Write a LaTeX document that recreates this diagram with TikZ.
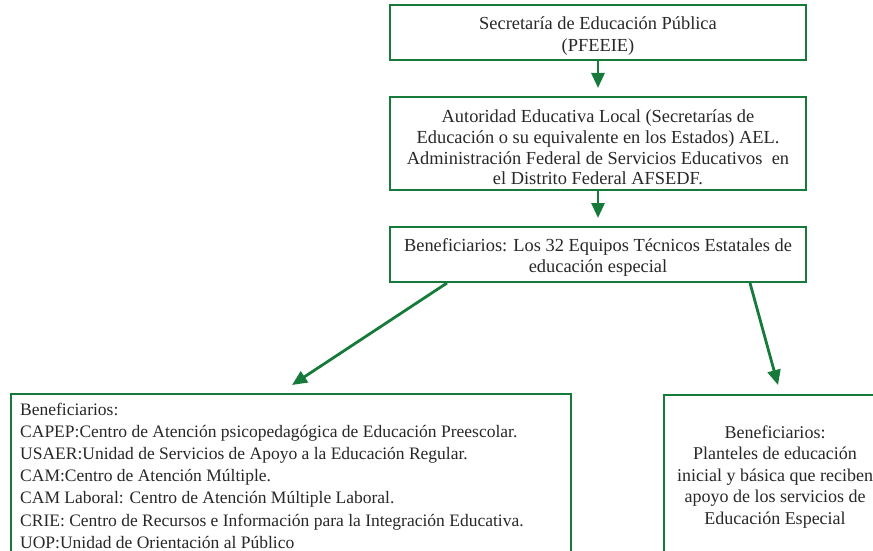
\documentclass[tikz,border=0pt]{standalone}
\usepackage{fontspec}
\setmainfont{Liberation Serif}
\usetikzlibrary{arrows.meta,calc}
\definecolor{boxgreen}{RGB}{22,122,58}
\definecolor{txt}{RGB}{40,40,40}
\tikzset{
  box/.style={draw=boxgreen, line width=2pt, fill=white, text=txt, align=center, inner sep=0pt, font=\fontsize{18.4}{21}\selectfont},
  conn/.style={draw=boxgreen, line width=2.8pt, -{Triangle[length=15pt,width=13pt]}},
  txtlabel/.style={text=txt, inner sep=0pt},
}
\begin{document}
\begin{tikzpicture}[x=1pt,y=-1pt]
\useasboundingbox (0,0) rectangle (873,551);
\node[box, minimum width=416, minimum height=55] (B1) at (598,32.5) {};
\node[txtlabel, align=center, font=\fontsize{18.4}{21.8}\selectfont] (B1t) at (598,36) {Secretaría de Educación Pública\\(PFEEIE)};
\node[box, minimum width=416, minimum height=93] (B2) at (598,143.5) {};
\node[txtlabel, align=center, font=\fontsize{18.4}{20.7}\selectfont] (B2t) at (598,147.5) {Autoridad Educativa Local (Secretarías de\\Educación o su equivalente en los Estados) AEL.\\Administración Federal de Servicios Educativos\ \ en\\el Distrito Federal AFSEDF.};
\node[box, minimum width=416, minimum height=55] (B3) at (598,254.5) {};
\node[txtlabel, align=center, font=\fontsize{18.4}{21}\selectfont] (B3t) at (598,257.5) {Beneficiarios: Los 32 Equipos Técnicos Estatales de\\educación especial};
\node[box, anchor=north west, minimum width=560, minimum height=180] (L) at (10,393) {};
\node[txtlabel, anchor=north west, align=left, font=\fontsize{17.5}{22.1}\selectfont] (Ltxt) at (20,403) {Beneficiarios:\\CAPEP:Centro de Atención psicopedagógica de Educación Preescolar.\\USAER:Unidad de Servicios de Apoyo a la Educación Regular.\\CAM:Centro de Atención Múltiple.\\CAM Laboral: Centro de Atención Múltiple Laboral.\\CRIE: Centro de Recursos e Información para la Integración Educativa.\\UOP:Unidad de Orientación al Público};
\node[box, anchor=north west, minimum width=224, minimum height=180] (R) at (663,394) {};
\node[txtlabel, align=center, font=\fontsize{18}{21.5}\selectfont] (Rtxt) at (775,477) {Beneficiarios:\\Planteles de educación\\inicial y básica que reciben\\apoyo de los servicios de\\Educación Especial};
\draw[conn] (B1.south) -- ($(B2.north)+(0,-8)$);
\draw[conn] (B2.south) -- ($(B3.north)+(0,-8)$);
\coordinate (la) at ($(B3.south west)+(58,0)$);
\coordinate (lb) at ($(L.north west)+(282,-8)$);
\draw[conn] (la) -- (lb);
\coordinate (ra) at ($(B3.south west)+(361,0)$);
\coordinate (rb) at ($(R.north west)+(115,-9)$);
\draw[conn] (ra) -- (rb);
\end{tikzpicture}
\end{document}
